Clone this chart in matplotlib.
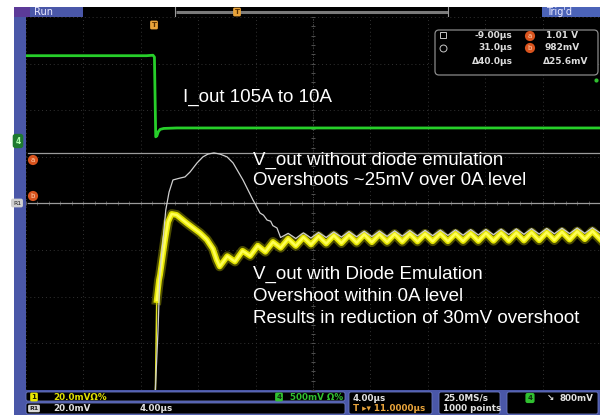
import numpy as np
import matplotlib.pyplot as plt
from matplotlib.patches import Rectangle, FancyBboxPatch

W, H = 600, 415

# horizontal: 4 us/div, trigger delayed 11 us -> screen spans -9 .. 31 us
t_min, t_max = -9.0, 31.0
t_div = 4.0
ch1_scale = 20.0    # mV/div, yellow and R1
ch4_scale = 500.0   # mV/div, green
ch4_ground = 1.34   # div above centre

# green: I_out step (ch4, mV above its ground)
iout_t = [-9.0, -0.6, -0.15, -0.05, 0.04, 0.12, 0.22, 0.35, 0.6, 1.5, 31.0]
iout_mv = [915, 915, 920, 900, 45, 55, 100, 125, 135, 140, 140]

# white: V_out without diode emulation (R1, mV)
vout_ref_t = [-9.0, -0.02, 0.0, 0.2, 0.34, 0.55, 0.74, 0.97, 1.24, 1.73, 2.08,
              2.43, 2.92, 3.33, 3.68, 4.10, 4.52, 5.01, 5.43, 6.12, 6.82, 7.31,
              7.55, 7.80, 8.05, 8.20, 8.49,
              8.74, 9.27, 9.80, 10.33, 10.86, 11.39, 11.92, 12.45, 12.98, 13.51,
              14.04, 14.57, 15.10, 15.63, 16.16, 16.69, 17.22, 17.75, 18.28, 18.81,
              19.34, 19.87, 20.40, 20.93, 21.46, 21.99, 22.52, 23.05, 23.58, 24.11,
              24.64, 25.17, 25.70, 26.23, 26.76, 27.29, 27.82, 28.35, 28.88, 29.41,
              29.94, 30.47, 31.0]
vout_ref_mv = [-85, -85, -82, -54.3, -28.5, -15.7, -2.8, 4.9, 10.1, 10.9, 11.4,
               13.5, 17.4, 20.0, 21.2, 21.7, 21.2, 20.0, 17.4, 10.1, 1.5, -4.1,
               -5.0, -7.1, -7.6, -9.5, -10.5,
               -14.6, -12.8, -15.0, -12.6, -14.8, -12.4, -14.6, -12.2, -14.4, -12.0,
               -14.3, -11.9, -14.2, -11.8, -14.1, -11.7, -14.0, -11.6, -13.9, -11.5,
               -13.8, -11.4, -13.7, -11.3, -13.6, -11.2, -13.5, -11.1, -13.4, -11.0,
               -13.3, -10.9, -13.2, -10.8, -13.1, -10.7, -13.0, -10.6, -12.9, -10.5,
               -12.8, -10.4, -12.6]

# yellow: V_out with diode emulation (ch1, mV)
vout_de_t = [-9.0, -0.05, 0.02, 0.11, 0.27, 0.34, 0.69, 0.90, 1.15, 1.50, 2.20,
             3.13, 3.60, 4.03, 4.29,
             4.50, 5.03, 5.56, 6.09, 6.62, 7.15, 7.68, 8.21, 8.74, 9.27, 9.80,
             10.33, 10.86, 11.39, 11.92, 12.45, 12.98, 13.51, 14.04, 14.57, 15.10,
             15.63, 16.16, 16.69, 17.22, 17.75, 18.28, 18.81, 19.34, 19.87, 20.40,
             20.93, 21.46, 21.99, 22.52, 23.05, 23.58, 24.11, 24.64, 25.17, 25.70,
             26.23, 26.76, 27.29, 27.82, 28.35, 28.88, 29.41, 29.94, 30.47, 31.0]
vout_de_mv = [-85, -85, -80, -41.4, -32.8, -30.7, -15.7, -7.9, -4.5, -4.9, -8.4,
              -12.7, -15.5, -19.5, -24.2,
              -27.0, -22.6, -24.9, -20.3, -22.5, -18.1, -20.7, -16.5, -19.0, -15.1, -18.2,
              -14.5, -17.6, -14.0, -17.2, -13.7, -17.0, -13.5, -16.8, -13.3, -16.6,
              -13.2, -16.5, -13.1, -16.4, -13.0, -16.3, -13.0, -16.2, -12.9, -16.2,
              -12.9, -16.1, -12.8, -16.1, -12.7, -16.0, -12.6, -16.0, -12.5, -15.9,
              -12.4, -15.8, -12.3, -15.7, -12.2, -15.5, -12.0, -15.3, -11.9, -15.2]

cursor_a_mv = 21.6
cursor_b_mv = 0.0

notes = [
    ("I_out 105A to 10A", 183, 102),
    ("V_out without diode emulation", 253, 165),
    ("Overshoots ~25mV over 0A level", 253, 185),
    ("V_out with Diode Emulation", 253, 279),
    ("Overshoot within 0A level", 253, 301),
    ("Results in reduction of 30mV overshoot", 253, 323),
]

BLUE = '#4a57a8'
ORANGE = '#d9541e'
TCOL = '#e8a33a'

fig = plt.figure(figsize=(6, 4.15), dpi=100)
fig.patch.set_facecolor('white')

# frame / status bars in pixel coordinates
bg = fig.add_axes([0, 0, 1, 1])
bg.set_xlim(0, W)
bg.set_ylim(H, 0)
bg.axis('off')
bg.add_patch(Rectangle((14, 7), 586, 408, fc=BLUE, ec='none'))
bg.add_patch(Rectangle((14, 7), 16, 10, fc='#5c3a98', ec='none'))
bg.add_patch(Rectangle((83, 7), 517, 10, fc='black', ec='none'))
bg.add_patch(Rectangle((542, 7), 58, 10, fc='#4b63b8', ec='none'))
bg.plot([176, 448], [12, 12], color='#7a7a7a', lw=2.2, solid_capstyle='butt')
bg.plot([175, 175], [7, 17], color='#9a9a9a', lw=0.8)
bg.plot([448, 448], [7, 17], color='#9a9a9a', lw=0.8)
bg.text(34, 12.3, "Run", color='#e8e8ff', fontsize=7, va='center')
bg.text(546, 12.3, "Trig'd", color='#e8e8ff', fontsize=7, va='center')

# bottom status boxes
for (x0, y0, w, h) in [(26, 392, 319, 9), (26, 403, 319, 11), (349, 392, 83, 22),
                       (439, 392, 61, 22), (507, 392, 91, 22)]:
    bg.add_patch(FancyBboxPatch((x0, y0), w, h, boxstyle='round,pad=0,rounding_size=2',
                                fc='black', ec='#6a78c0', lw=0.6))

ax = fig.add_axes([26 / W, 1 - 390 / H, 574 / W, 373 / H])
ax.set_facecolor('black')
ax.set_xlim(t_min, t_max)
ax.set_ylim(-4, 4)
ax.set_xticks(np.arange(t_min, t_max + 0.1, t_div))
ax.set_yticks(np.arange(-4, 5, 1))
ax.tick_params(length=0, labelbottom=False, labelleft=False)
ax.grid(True, color='#333333', linestyle=(0, (1, 3)), lw=0.7)
for s in ax.spines.values():
    s.set_visible(False)

# centre crosshair with minor ticks
t_mid = (t_min + t_max) / 2
ax.axvline(t_mid, color='#444444', lw=0.7, ls=(0, (1, 2)))
ax.axhline(0, color='#444444', lw=0.7, ls=(0, (1, 2)))
ax.plot(np.full(41, t_mid), np.linspace(-4, 4, 41), ls='none', marker='_',
        ms=3, color='#505050', mew=0.7)
ax.plot(np.linspace(t_min, t_max, 51), np.zeros(51), ls='none', marker='|',
        ms=3, color='#505050', mew=0.7)

# cursors
ax.plot([t_min + 0.15, t_max], [cursor_a_mv / ch1_scale] * 2, color='#9c9c9c', lw=0.9)
ax.plot([t_min + 0.15, t_max], [cursor_b_mv / ch1_scale] * 2, color='#9c9c9c', lw=0.9)

# green I_out
ax.plot(iout_t, np.array(iout_mv) / ch4_scale + ch4_ground, color='#27cf2a', lw=2.0)

# yellow: thin fast edge, glowing band after it
de_t = np.array(vout_de_t)
de = np.array(vout_de_mv) / ch1_scale
ax.plot(de_t, de, color='#e0e020', lw=1.1)
band = de_t >= 0.11
ax.plot(de_t[band], de[band], color='#a8a800', lw=7, alpha=0.45, solid_joinstyle='round')
ax.plot(de_t[band], de[band], color='#e4e400', lw=4.2, solid_joinstyle='round')
ax.plot(de_t[band], de[band], color='#ffff55', lw=1.8, solid_joinstyle='round')

# white reference
ax.plot(vout_ref_t, np.array(vout_ref_mv) / ch1_scale, color='#cfcfcf', lw=0.9)

# overlay for labels and markers
fg = fig.add_axes([0, 0, 1, 1])
fg.set_xlim(0, W)
fg.set_ylim(H, 0)
fg.axis('off')
fg.patch.set_alpha(0)

for txt, x, y in notes:
    fg.text(x, y, txt, color='white', fontsize=13.5, family='Liberation Sans', va='baseline')

# trigger markers
for (x, y) in [(154, 25), (237, 12)]:
    fg.text(x, y, 'T', color='#5a3000', fontsize=5, ha='center', va='center', weight='bold',
            bbox=dict(boxstyle='round,pad=0.2', fc=TCOL, ec='none'))

# left edge markers
fg.text(18, 141, '4', color='#b0ffb0', fontsize=5.5, ha='center', va='center', weight='bold',
        bbox=dict(boxstyle='round,pad=0.35', fc='#1e7a30', ec='none'))
fg.text(17, 203, 'R1', color='#202020', fontsize=4.5, ha='center', va='center',
        bbox=dict(boxstyle='round,pad=0.3', fc='#d0d0d0', ec='none'))
for lab, y in [('a', 160), ('b', 196)]:
    fg.text(33, y, lab, color='#ffd0b0', fontsize=5, ha='center', va='center',
            bbox=dict(boxstyle='circle,pad=0.3', fc=ORANGE, ec='none'))
fg.plot([596], [80], marker='o', ms=2, color='#30c030')

# cursor readout box
fg.add_patch(FancyBboxPatch((435, 30), 163, 45, boxstyle='round,pad=0,rounding_size=4',
                            fc='black', ec='#8a8a8a', lw=0.9))
fg.add_patch(Rectangle((440, 32), 6, 6, fc='none', ec='#c8c8c8', lw=0.7))
fg.plot([443], [48], marker='o', ms=5, mfc='none', mec='#c8c8c8', mew=0.7)
rk = dict(color='#dcdcdc', fontsize=6.5, weight='bold', va='center')
fg.text(512, 35, '-9.00µs', ha='right', **rk)
fg.text(512, 48, '31.0µs', ha='right', **rk)
fg.text(513, 62, 'Δ40.0µs', ha='right', **rk)
fg.text(578, 35, '1.01 V', ha='right', **rk)
fg.text(580, 48, '982mV', ha='right', **rk)
fg.text(588, 62, 'Δ25.6mV', ha='right', **rk)
for lab, y in [('a', 36), ('b', 48)]:
    fg.text(530, y, lab, color='#ffd0b0', fontsize=5, ha='center', va='center',
            bbox=dict(boxstyle='circle,pad=0.3', fc=ORANGE, ec='none'))

# status bar text
sk = dict(fontsize=6.3, weight='bold', va='center')
fg.text(34, 397, '1', color='#202000', fontsize=5, ha='center', va='center', weight='bold',
        bbox=dict(boxstyle='round,pad=0.2', fc='#e8e800', ec='none'))
fg.text(53, 397, '20.0mVΩ%', color='#e0e000', **sk)
fg.text(34, 408.5, 'R1', color='#202020', fontsize=4.5, ha='center', va='center', weight='bold',
        bbox=dict(boxstyle='round,pad=0.2', fc='#d8d8d8', ec='none'))
fg.text(53, 408.5, '20.0mV', color='#e0e0e0', **sk)
fg.text(140, 408.5, '4.00µs', color='#e0e0e0', **sk)
fg.text(279, 397, '4', color='#103010', fontsize=5, ha='center', va='center', weight='bold',
        bbox=dict(boxstyle='round,pad=0.2', fc='#30c030', ec='none'))
fg.text(290, 397, '500mV Ω%', color='#30c030', **sk)
fg.text(353, 398, '4.00µs', color='#e0e0e0', **sk)
fg.text(353, 408.5, 'T ▸▾ 11.0000µs', color=TCOL, **sk)
fg.text(443, 398, '25.0MS/s', color='#e0e0e0', **sk)
fg.text(443, 408.5, '1000 points', color='#e0e0e0', **sk)
fg.text(530, 398, '4', color='#103010', fontsize=5, ha='center', va='center', weight='bold',
        bbox=dict(boxstyle='round,pad=0.3', fc='#30c030', ec='none'))
fg.text(547, 398, '↘', color='#e0e0e0', **sk)
fg.text(593, 398, '800mV', color='#e0e0e0', ha='right', fontsize=6.3, weight='bold', va='center')

fig.savefig('out.png', dpi=100, facecolor='white')
